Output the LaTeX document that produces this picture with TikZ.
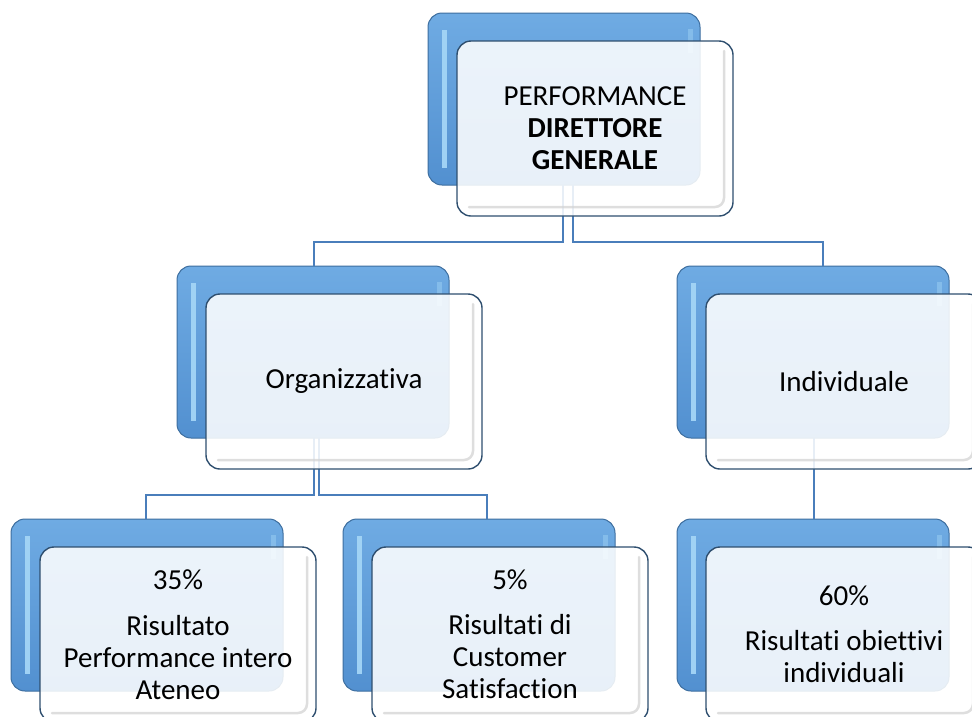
\documentclass[tikz,border=0pt]{standalone}
\usepackage{fontspec}
\setmainfont{Carlito}[Ligatures={NoCommon}]
\usetikzlibrary{calc}
\definecolor{bluetop}{HTML}{6FABE3}
\definecolor{bluebot}{HTML}{5290D0}
\definecolor{blueedge}{HTML}{3D6E9F}
\definecolor{bluehl}{HTML}{A3D5F6}
\definecolor{frontedge}{HTML}{2F4F6F}
\definecolor{connblue}{HTML}{4A7EBB}
\tikzset{
  backbox/.style={rounded corners=14pt, draw=blueedge, line width=1pt,
    top color=bluetop, bottom color=bluebot,
    minimum width=272pt, minimum height=172pt, inner sep=0pt, outer sep=0pt},
  frontbox/.style={rounded corners=14pt, draw=frontedge, line width=1.4pt,
    fill=white, fill opacity=0.87, text opacity=1,
    minimum width=276pt, minimum height=175pt, inner sep=0pt, outer sep=0pt,
    align=center, font=\fontsize{29}{32}\selectfont},
  conn/.style={draw=connblue, line width=2pt},
  hlstripe/.style={draw=bluehl, line width=5pt, opacity=.95},
  bevel/.style={draw=black!18, line width=2.5pt, opacity=.7, rounded corners=9pt, line cap=round},
}
\newcommand\mkback[3]{%
  \node[backbox] (b#1) at (#2+136,#3+86) {};
  \draw[hlstripe] ([xshift=16pt,yshift=-17pt]b#1.north west) -- ([xshift=16pt,yshift=17pt]b#1.south west);
  \draw[hlstripe,opacity=.45] ([xshift=-10pt,yshift=-16pt]b#1.north east) -- ([xshift=-10pt,yshift=-40pt]b#1.north east);
}
\newcommand\mkfront[2]{%
  \node[frontbox] (f#1) at ([xshift=31pt,yshift=-29.5pt]b#1.center) {#2};
  \draw[bevel] ([xshift=-9pt,yshift=-10pt]f#1.north east) -- ([xshift=-9pt,yshift=9pt]f#1.south east) -- ([xshift=12pt,yshift=9pt]f#1.south west);
}
\begin{document}
\begin{tikzpicture}[x=1pt,y=-1pt]
\useasboundingbox (0,0) rectangle (972,716);
\clip (0,0) rectangle (972,716);
\fill[white] (0,0) rectangle (972,716);
% back boxes
\mkback{top}{428}{13}
\mkback{ml}{177}{266}
\mkback{mr}{677}{266}
\mkback{bl}{11}{519}
\mkback{bm}{343}{519}
\mkback{br}{677}{519}
% connectors
\draw[conn] ([xshift=-1pt]btop.south) |- ([xshift=1pt,yshift=24pt]bml.north) -- ([xshift=1pt]bml.north);
\draw[conn] ([xshift=9pt]btop.south) |- ([xshift=10pt,yshift=24pt]bmr.north) -- ([xshift=10pt]bmr.north);
\draw[conn] ([xshift=1pt]bml.south) |- ([xshift=-1pt,yshift=24pt]bbl.north) -- ([xshift=-1pt]bbl.north);
\draw[conn] ([xshift=6pt]bml.south) |- ([xshift=8pt,yshift=24pt]bbm.north) -- ([xshift=8pt]bbm.north);
\draw[conn] ([xshift=1pt]bmr.south) -- ([xshift=1pt]bbr.north);
% front boxes
\mkfront{top}{\fontsize{29}{30}\selectfont PERFORMANCE\\ \textbf{DIRETTORE}\\ \textbf{GENERALE}}
\mkfront{ml}{Organizzativa}
\mkfront{mr}{Individuale}
\mkfront{bl}{35\%\\[14pt] Risultato\\ Performance intero\\ Ateneo}
\mkfront{bm}{5\%\\[13pt] Risultati di\\ Customer\\ Satisfaction}
\mkfront{br}{60\%\\[13pt] Risultati obiettivi\\ individuali}
\end{tikzpicture}
\end{document}
